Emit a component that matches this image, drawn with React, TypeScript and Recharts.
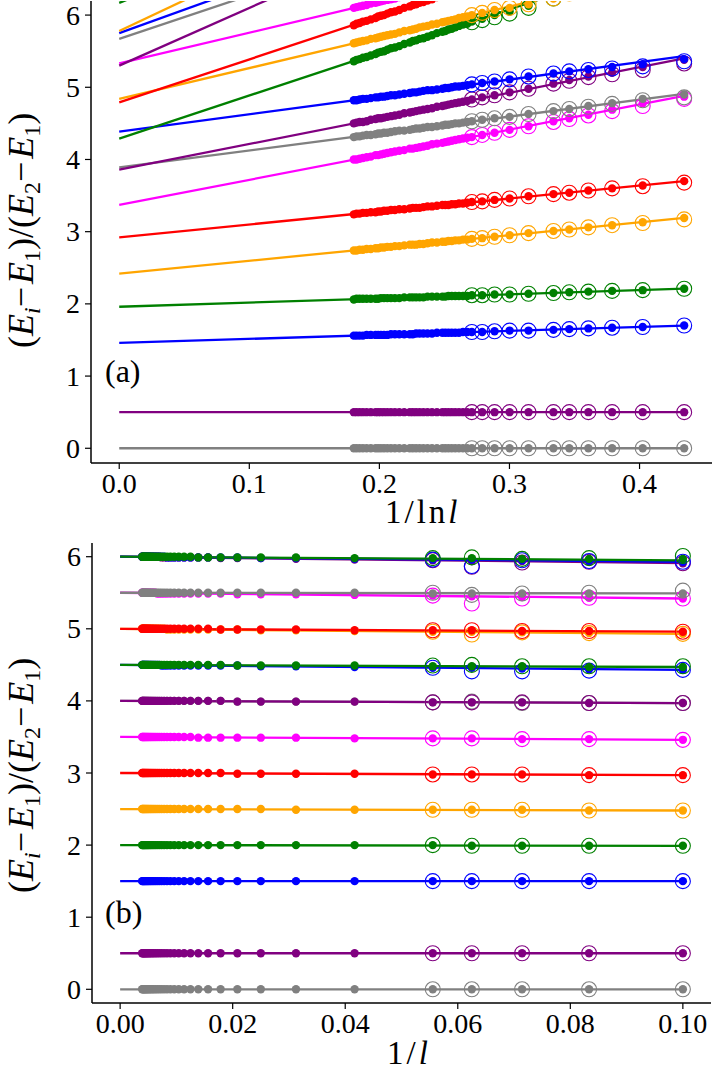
import { ComposedChart, Line, Scatter, XAxis, YAxis } from "recharts";

const SERIF = '"Liberation Serif", "DejaVu Serif", serif';

const PALETTE: Record<string, string> = {
  gray: "#808080",
  purple: "#800080",
  blue: "#0000ff",
  green: "#008000",
  orange: "#ffa500",
  red: "#ff0000",
  magenta: "#ff00ff",
};

// ---------- panel (a): levels against 1/ln l ----------
const sizesA = [
  10, 12, 14, 16, 18, 20, 24, 28, 32, 36, 40,
  42, 44, 46, 48, 50, 52, 54, 56, 60, 64, 68, 72, 76, 80, 84, 88, 96, 104, 112, 120,
  128, 136, 144, 152, 160, 176, 192, 208, 224, 240, 256,
];
const ringCountA = 11;
const colorsA = ["gray", "purple", "blue", "green", "orange", "red", "magenta", "gray", "purple", "blue", "green", "orange", "red", "magenta", "gray", "purple", "blue", "green", "orange"];
// fitted line: value at 1/ln l = 0 and at l = 10
const fitA = [
  [0, 0], [0.5, 0.5], [1.46, 1.7], [1.96, 2.21], [2.42, 3.19], [2.92, 3.7], [3.37, 4.88],
  [3.89, 4.91], [3.86, 5.4], [4.385, 5.43], [4.29, 6.88], [4.84, 6.69], [4.79, 7.38], [5.33, 7.18],
  [5.67, 8.29], [5.3, 8.77], [5.75, 8.57], [6.17, 9.21], [5.78, 9.47],
];
const dotsA = [
  [0, 0, 0, 0, 0, 0, 0, 0, 0, 0, 0, 0, 0, 0, 0, 0, 0, 0, 0, 0, 0, 0, 0, 0, 0, 0, 0, 0, 0, 0, 0, 0, 0, 0, 0, 0, 0, 0, 0, 0, 0, 0],
  [0.5, 0.5, 0.5, 0.5, 0.5, 0.5, 0.5, 0.5, 0.5, 0.5, 0.5, 0.5, 0.5, 0.5, 0.5, 0.5, 0.5, 0.5, 0.5, 0.5, 0.5, 0.5, 0.5, 0.5, 0.5, 0.5, 0.5, 0.5, 0.5, 0.5, 0.5, 0.5, 0.5, 0.5, 0.5, 0.5, 0.5, 0.5, 0.5, 0.5, 0.5, 0.5],
  [1.7, 1.68, 1.67, 1.66, 1.65, 1.64, 1.63, 1.63, 1.62, 1.61, 1.61,
    1.61, 1.61, 1.6, 1.6, 1.6, 1.6, 1.6, 1.6, 1.6, 1.59, 1.59, 1.59, 1.59, 1.59, 1.58, 1.58, 1.58, 1.58, 1.58, 1.58,
    1.57, 1.57, 1.57, 1.57, 1.57, 1.57, 1.57, 1.56, 1.56, 1.56, 1.56],
  [2.21, 2.19, 2.18, 2.17, 2.16, 2.15, 2.14, 2.13, 2.13, 2.12, 2.12,
    2.11, 2.11, 2.11, 2.11, 2.11, 2.11, 2.1, 2.1, 2.1, 2.1, 2.1, 2.09, 2.09, 2.09, 2.09, 2.09, 2.09, 2.08, 2.08, 2.08,
    2.08, 2.08, 2.08, 2.07, 2.07, 2.07, 2.07, 2.07, 2.07, 2.07, 2.06],
  [3.19, 3.13, 3.09, 3.06, 3.03, 3.01, 2.98, 2.95, 2.93, 2.91, 2.9,
    2.89, 2.89, 2.88, 2.88, 2.87, 2.87, 2.86, 2.86, 2.85, 2.85, 2.84, 2.83, 2.83, 2.82, 2.82, 2.82, 2.81, 2.8, 2.8, 2.79,
    2.79, 2.78, 2.78, 2.77, 2.77, 2.76, 2.76, 2.75, 2.75, 2.74, 2.74],
  [3.7, 3.64, 3.6, 3.57, 3.54, 3.52, 3.49, 3.46, 3.44, 3.42, 3.41,
    3.4, 3.39, 3.39, 3.38, 3.38, 3.37, 3.37, 3.37, 3.36, 3.35, 3.35, 3.34, 3.33, 3.33, 3.33, 3.32, 3.31, 3.31, 3.3, 3.3,
    3.29, 3.29, 3.28, 3.28, 3.27, 3.27, 3.26, 3.26, 3.25, 3.25, 3.24],
  [4.87, 4.78, 4.69, 4.62, 4.57, 4.53, 4.46, 4.41, 4.37, 4.34, 4.31,
    4.3, 4.29, 4.28, 4.27, 4.26, 4.25, 4.24, 4.23, 4.22, 4.21, 4.19, 4.18, 4.17, 4.16, 4.15, 4.15, 4.13, 4.12, 4.11, 4.1,
    4.09, 4.08, 4.07, 4.06, 4.06, 4.04, 4.03, 4.02, 4.01, 4.0, 4.0],
  [4.9, 4.84, 4.78, 4.74, 4.7, 4.67, 4.63, 4.59, 4.57, 4.55, 4.53,
    4.52, 4.51, 4.5, 4.5, 4.49, 4.48, 4.48, 4.47, 4.46, 4.45, 4.45, 4.44, 4.43, 4.43, 4.42, 4.41, 4.4, 4.4, 4.39, 4.38,
    4.37, 4.37, 4.36, 4.36, 4.35, 4.34, 4.34, 4.33, 4.32, 4.32, 4.31],
  [5.38, 5.28, 5.2, 5.15, 5.1, 5.05, 4.98, 4.93, 4.89, 4.86, 4.83,
    4.81, 4.8, 4.79, 4.78, 4.77, 4.76, 4.75, 4.74, 4.73, 4.71, 4.7, 4.69, 4.68, 4.67, 4.66, 4.65, 4.64, 4.62, 4.61, 4.6,
    4.59, 4.58, 4.57, 4.57, 4.56, 4.55, 4.53, 4.52, 4.52, 4.51, 4.5],
  [5.39, 5.32, 5.28, 5.25, 5.22, 5.19, 5.15, 5.11, 5.08, 5.06, 5.04,
    5.03, 5.02, 5.01, 5.01, 5.0, 4.99, 4.99, 4.98, 4.97, 4.96, 4.96, 4.95, 4.94, 4.93, 4.93, 4.92, 4.91, 4.9, 4.89, 4.89,
    4.88, 4.87, 4.87, 4.86, 4.86, 4.85, 4.84, 4.84, 4.83, 4.82, 4.82],
  [6.88, 6.69, 6.55, 6.44, 6.35, 6.26, 6.13, 6.05, 6.0, 5.95, 5.91,
    5.88, 5.87, 5.85, 5.83, 5.81, 5.8, 5.78, 5.77, 5.75, 5.72, 5.7, 5.68, 5.67, 5.65, 5.64, 5.62, 5.6, 5.57, 5.55, 5.54,
    5.52, 5.5, 5.49, 5.48, 5.46, 5.44, 5.42, 5.41, 5.39, 5.38, 5.36],
  [6.69, 6.56, 6.46, 6.38, 6.3, 6.23, 6.15, 6.1, 6.07, 6.03, 6.0,
    5.98, 5.97, 5.96, 5.94, 5.93, 5.92, 5.91, 5.9, 5.88, 5.87, 5.85, 5.84, 5.83, 5.81, 5.8, 5.79, 5.78, 5.76, 5.74, 5.73,
    5.72, 5.71, 5.7, 5.69, 5.68, 5.67, 5.65, 5.64, 5.63, 5.62, 5.61],
  [7.38, 7.19, 7.05, 6.94, 6.85, 6.78, 6.67, 6.58, 6.51, 6.45, 6.41,
    6.38, 6.37, 6.35, 6.33, 6.31, 6.3, 6.28, 6.27, 6.25, 6.22, 6.2, 6.18, 6.17, 6.15, 6.14, 6.12, 6.1, 6.07, 6.05, 6.04,
    6.02, 6.0, 5.99, 5.98, 5.96, 5.94, 5.92, 5.91, 5.89, 5.88, 5.86],
  [7.18, 7.05, 6.95, 6.87, 6.81, 6.76, 6.67, 6.61, 6.56, 6.52, 6.49,
    6.47, 6.46, 6.45, 6.43, 6.42, 6.41, 6.4, 6.39, 6.37, 6.36, 6.34, 6.33, 6.32, 6.3, 6.29, 6.28, 6.27, 6.25, 6.23, 6.22,
    6.21, 6.2, 6.19, 6.18, 6.17, 6.16, 6.14, 6.13, 6.12, 6.11, 6.1],
  [], [], [], [], [], // the measured points of these levels lie above the window
];
const ringsA = [
  [0, 0, 0, 0, 0, 0, 0, 0, 0, 0, 0],
  [0.5, 0.5, 0.5, 0.5, 0.5, 0.5, 0.5, 0.5, 0.5, 0.5, 0.5],
  [1.7, 1.68, 1.67, 1.66, 1.65, 1.64, 1.63, 1.63, 1.62, 1.61, 1.61],
  [2.21, 2.19, 2.18, 2.17, 2.16, 2.15, 2.14, 2.13, 2.13, 2.12, 2.12],
  [3.17, 3.12, 3.09, 3.06, 3.03, 3.01, 2.98, 2.95, 2.93, 2.91, 2.9],
  [3.68, 3.63, 3.6, 3.57, 3.54, 3.52, 3.49, 3.46, 3.44, 3.42, 3.41],
  [4.84, 4.74, 4.67, 4.61, 4.56, 4.52, 4.46, 4.41, 4.37, 4.34, 4.31],
  [4.86, 4.82, 4.77, 4.73, 4.7, 4.67, 4.63, 4.59, 4.57, 4.55, 4.53],
  [5.33, 5.24, 5.18, 5.14, 5.09, 5.05, 4.98, 4.93, 4.89, 4.86, 4.83],
  [5.36, 5.29, 5.26, 5.24, 5.22, 5.19, 5.15, 5.11, 5.08, 5.06, 5.04],
  [6.85, 6.66, 6.52, 6.41, 6.32, 6.23, 6.1, 6.02, 5.97, 5.93, 5.9],
  [6.69, 6.56, 6.46, 6.38, 6.3, 6.23, 6.15, 6.1, 6.07, 6.03, 6.0],
  [7.38, 7.19, 7.05, 6.94, 6.85, 6.78, 6.67, 6.58, 6.51, 6.45, 6.41],
  [7.18, 7.05, 6.95, 6.87, 6.81, 6.76, 6.67, 6.61, 6.56, 6.52, 6.49],
  [], [], [], [], [],
];
const ticksA = [0, 0.1, 0.2, 0.3, 0.4];

// ---------- panel (b): levels against 1/l ----------
const sizesB = [
  10, 12, 14, 16, 18,
  24, 32, 40, 48, 56, 64, 72, 80, 88, 96, 104, 112, 120, 128, 136, 144, 152, 160, 168, 176, 184, 192, 200, 208, 216, 224, 232, 240, 248, 256,
];
const ringCountB = 5;
const colorsB = ["gray", "purple", "blue", "green", "orange", "red", "magenta", "gray", "purple", "blue", "green", "orange", "red", "magenta", "gray", "purple", "blue", "green"];
// fitted line: value at 1/l = 0 and at l = 10
const fitB = [
  [0, 0], [0.5, 0.5], [1.5, 1.5], [2.0, 1.99], [2.5, 2.48], [3.0, 2.97], [3.5, 3.46], [4.0, 3.97], [4.0, 3.97],
  [4.5, 4.43], [4.5, 4.47], [5.0, 4.93], [5.0, 4.96], [5.5, 5.42], [5.5, 5.49], [6.0, 5.91], [6.0, 5.93], [6.0, 5.95],
];
const dotsB = [
  [0, 0, 0, 0, 0, 0, 0, 0, 0, 0, 0, 0, 0, 0, 0, 0, 0, 0, 0, 0, 0, 0, 0, 0, 0, 0, 0, 0, 0, 0, 0, 0, 0, 0, 0],
  [0.5, 0.5, 0.5, 0.5, 0.5, 0.5, 0.5, 0.5, 0.5, 0.5, 0.5, 0.5, 0.5, 0.5, 0.5, 0.5, 0.5, 0.5, 0.5, 0.5, 0.5, 0.5, 0.5, 0.5, 0.5, 0.5, 0.5, 0.5, 0.5, 0.5, 0.5, 0.5, 0.5, 0.5, 0.5],
  [1.5, 1.5, 1.5, 1.5, 1.5, 1.5, 1.5, 1.5, 1.5, 1.5, 1.5, 1.5, 1.5, 1.5, 1.5, 1.5, 1.5, 1.5, 1.5, 1.5, 1.5, 1.5, 1.5, 1.5, 1.5, 1.5, 1.5, 1.5, 1.5, 1.5, 1.5, 1.5, 1.5, 1.5, 1.5],
  [1.99, 1.99, 1.99, 1.99, 2, 2, 2, 2, 2, 2, 2, 2, 2, 2, 2, 2, 2, 2, 2, 2, 2, 2, 2, 2, 2, 2, 2, 2, 2, 2, 2, 2, 2, 2, 2],
  [2.48, 2.48, 2.49, 2.49, 2.49, 2.49, 2.49, 2.5, 2.5, 2.5, 2.5, 2.5, 2.5, 2.5, 2.5, 2.5, 2.5, 2.5, 2.5, 2.5, 2.5, 2.5, 2.5, 2.5, 2.5, 2.5, 2.5, 2.5, 2.5, 2.5, 2.5, 2.5, 2.5, 2.5, 2.5],
  [2.97, 2.97, 2.98, 2.98, 2.98, 2.99, 2.99, 2.99, 2.99, 3, 3, 3, 3, 3, 3, 3, 3, 3, 3, 3, 3, 3, 3, 3, 3, 3, 3, 3, 3, 3, 3, 3, 3, 3, 3],
  [3.46, 3.47, 3.47, 3.48, 3.48, 3.48, 3.49, 3.49, 3.49, 3.49, 3.49, 3.49, 3.5, 3.5, 3.5, 3.5, 3.5, 3.5, 3.5, 3.5, 3.5, 3.5, 3.5, 3.5, 3.5, 3.5, 3.5, 3.5, 3.5, 3.5, 3.5, 3.5, 3.5, 3.5, 3.5],
  [3.97, 3.97, 3.98, 3.98, 3.98, 3.99, 3.99, 3.99, 3.99, 4, 4, 4, 4, 4, 4, 4, 4, 4, 4, 4, 4, 4, 4, 4, 4, 4, 4, 4, 4, 4, 4, 4, 4, 4, 4],
  [3.97, 3.97, 3.98, 3.98, 3.98, 3.99, 3.99, 3.99, 3.99, 4, 4, 4, 4, 4, 4, 4, 4, 4, 4, 4, 4, 4, 4, 4, 4, 4, 4, 4, 4, 4, 4, 4, 4, 4, 4],
  [4.43, 4.44, 4.45, 4.46, 4.46, 4.47, 4.48, 4.48, 4.49, 4.49, 4.49, 4.49, 4.49, 4.49, 4.49, 4.49, 4.49, 4.49, 4.49, 4.49, 4.5, 4.5, 4.5, 4.5, 4.5, 4.5, 4.5, 4.5, 4.5, 4.5, 4.5, 4.5, 4.5, 4.5, 4.5],
  [4.47, 4.47, 4.48, 4.48, 4.48, 4.49, 4.49, 4.49, 4.49, 4.5, 4.5, 4.5, 4.5, 4.5, 4.5, 4.5, 4.5, 4.5, 4.5, 4.5, 4.5, 4.5, 4.5, 4.5, 4.5, 4.5, 4.5, 4.5, 4.5, 4.5, 4.5, 4.5, 4.5, 4.5, 4.5],
  [4.93, 4.94, 4.95, 4.96, 4.96, 4.97, 4.98, 4.98, 4.99, 4.99, 4.99, 4.99, 4.99, 4.99, 4.99, 4.99, 4.99, 4.99, 5, 5, 5, 5, 5, 5, 5, 5, 5, 5, 5, 5, 5, 5, 5, 5, 5],
  [4.96, 4.97, 4.97, 4.98, 4.98, 4.98, 4.99, 4.99, 4.99, 4.99, 5, 5, 5, 5, 5, 5, 5, 5, 5, 5, 5, 5, 5, 5, 5, 5, 5, 5, 5, 5, 5, 5, 5, 5, 5],
  [5.42, 5.43, 5.44, 5.45, 5.46, 5.47, 5.48, 5.48, 5.48, 5.49, 5.49, 5.49, 5.49, 5.49, 5.49, 5.49, 5.49, 5.49, 5.49, 5.49, 5.49, 5.49, 5.5, 5.5, 5.5, 5.5, 5.5, 5.5, 5.5, 5.5, 5.5, 5.5, 5.5, 5.5, 5.5],
  [5.49, 5.49, 5.49, 5.49, 5.49, 5.5, 5.5, 5.5, 5.5, 5.5, 5.5, 5.5, 5.5, 5.5, 5.5, 5.5, 5.5, 5.5, 5.5, 5.5, 5.5, 5.5, 5.5, 5.5, 5.5, 5.5, 5.5, 5.5, 5.5, 5.5, 5.5, 5.5, 5.5, 5.5, 5.5],
  [5.91, 5.93, 5.94, 5.94, 5.95, 5.96, 5.97, 5.98, 5.98, 5.98, 5.99, 5.99, 5.99, 5.99, 5.99, 5.99, 5.99, 5.99, 5.99, 5.99, 6, 6, 6, 6, 6, 6, 6, 6, 6, 6, 6, 6, 6, 6, 6],
  [5.93, 5.94, 5.95, 5.96, 5.96, 5.97, 5.98, 5.98, 5.99, 5.99, 5.99, 5.99, 5.99, 5.99, 5.99, 5.99, 5.99, 5.99, 6, 6, 6, 6, 6, 6, 6, 6, 6, 6, 6, 6, 6, 6, 6, 6, 6],
  [5.97, 5.97, 5.97, 5.98, 5.98, 5.98, 5.99, 5.99, 5.99, 5.99, 5.99, 5.99, 6, 6, 6, 6, 6, 6, 6, 6, 6, 6, 6, 6, 6, 6, 6, 6, 6, 6, 6, 6, 6, 6, 6],
];
const ringsB = [
  [0, 0, 0, 0, 0],
  [0.5, 0.5, 0.5, 0.5, 0.5],
  [1.5, 1.5, 1.5, 1.5, 1.5],
  [1.99, 1.99, 1.99, 1.99, 2],
  [2.48, 2.48, 2.49, 2.49, 2.49],
  [2.97, 2.97, 2.98, 2.98, 2.98],
  [3.46, 3.47, 3.47, 3.48, 3.48],
  [3.97, 3.97, 3.97, 3.99, 3.98],
  [3.97, 3.97, 3.98, 3.98, 3.98],
  [4.43, 4.42, 4.41, 4.41, 4.46],
  [4.48, 4.48, 4.48, 4.5, 4.49],
  [4.93, 4.94, 4.95, 4.92, 4.96],
  [4.96, 4.97, 4.97, 4.98, 4.98],
  [5.42, 5.43, 5.42, 5.35, 5.46],
  [5.53, 5.5, 5.49, 5.47, 5.5],
  [5.91, 5.93, 5.92, 5.86, 5.95],
  [5.93, 5.94, 5.95, 5.87, 5.96],
  [6.01, 5.98, 5.97, 5.99, 5.98],
];
const ticksB = [0, 0.02, 0.04, 0.06, 0.08, 0.1];
const ticksY = [0, 1, 2, 3, 4, 5, 6];

type PanelProps = {
  xOf: (l: number) => number;
  sizes: number[];
  ringCount: number;
  colors: string[];
  fit: number[][];
  dots: number[][];
  rings: number[][];
  xDomain: [number, number];
  yDomain: [number, number];
  xTicks: number[];
  digits: number;
  margin: { top: number; right: number; left: number; bottom: number };
  yWidth: number;
  xHeight: number;
};

function XTick(props: any, digits: number) {
  return (
    <text x={props.x} y={props.y} dy="0.71em" textAnchor="middle" fontFamily={SERIF} fontSize={28} fill="#000">
      {Number(props.payload.value).toFixed(digits)}
    </text>
  );
}

function YTick(props: any) {
  return (
    <text x={props.x} y={props.y} dy="0.34em" textAnchor="end" fontFamily={SERIF} fontSize={28} fill="#000">
      {props.payload.value}
    </text>
  );
}

function Panel(p: PanelProps) {
  const x1 = p.xOf(p.sizes[0]);
  return (
    <ComposedChart width={721} height={540} margin={p.margin} style={{ fontFamily: SERIF }}>
      <XAxis
        type="number"
        dataKey="x"
        domain={p.xDomain}
        allowDataOverflow
        ticks={p.xTicks}
        tick={(t: any) => XTick(t, p.digits)}
        tickSize={6}
        tickMargin={4}
        height={p.xHeight}
        axisLine={{ stroke: "#000", strokeWidth: 1.5 }}
        tickLine={{ stroke: "#000", strokeWidth: 1.2 }}
      />
      <XAxis xAxisId="top" orientation="top" type="number" domain={p.xDomain} allowDataOverflow height={0} tick={false} tickLine={false} axisLine={{ stroke: "#000", strokeWidth: 1.5 }} />
      <YAxis
        type="number"
        dataKey="y"
        domain={p.yDomain}
        allowDataOverflow
        ticks={ticksY}
        tick={YTick}
        tickSize={6}
        tickMargin={5}
        width={p.yWidth}
        axisLine={{ stroke: "#000", strokeWidth: 1.5 }}
        tickLine={{ stroke: "#000", strokeWidth: 1.2 }}
      />
      <YAxis yAxisId="right" orientation="right" type="number" domain={p.yDomain} allowDataOverflow width={0} tick={false} tickLine={false} axisLine={{ stroke: "#000", strokeWidth: 1.5 }} />
      {p.colors.flatMap((name, s) => {
        const c = PALETTE[name];
        const lineData = [
          { x: 0, y: p.fit[s][0] },
          { x: x1, y: p.fit[s][1] },
        ];
        const dotData = p.dots[s].map((y, i) => ({ x: p.xOf(p.sizes[i]), y }));
        const ringData = p.rings[s].slice(0, p.ringCount).map((y, i) => ({ x: p.xOf(p.sizes[i]), y }));
        return [
          <Line key={`l${s}`} data={lineData} dataKey="y" stroke={c} strokeWidth={2.3} dot={false} isAnimationActive={false} />,
          <Scatter
            key={`d${s}`}
            data={dotData}
            dataKey="y"
            isAnimationActive={false}
            shape={(q: any) => <circle cx={q.cx} cy={q.cy} r={4.2} fill={c} />}
          />,
          <Scatter
            key={`r${s}`}
            data={ringData}
            dataKey="y"
            isAnimationActive={false}
            shape={(q: any) => <circle cx={q.cx} cy={q.cy} r={7.5} fill="none" stroke={c} strokeWidth={1.1} />}
          />,
        ];
      })}
    </ComposedChart>
  );
}

// rotated axis title, written from its lower end upwards
function YLabel({ x, y }: { x: number; y: number }) {
  const sub = { fontSize: 24, fontStyle: "normal" as const };
  return (
    <text transform={`translate(${x},${y}) rotate(-90)`} textAnchor="start" fontFamily={SERIF} fontSize={36} fill="#000">
      (<tspan fontStyle="italic">E</tspan>
      <tspan dy={7} fontStyle="italic" fontSize={24}>i</tspan>
      <tspan dy={-7}>−</tspan>
      <tspan dx={3} fontStyle="italic">E</tspan>
      <tspan dy={7} {...sub}>1</tspan>
      <tspan dy={-7}>)/(</tspan>
      <tspan fontStyle="italic">E</tspan>
      <tspan dy={7} {...sub}>2</tspan>
      <tspan dy={-7}>−</tspan>
      <tspan dx={3} fontStyle="italic">E</tspan>
      <tspan dy={7} {...sub}>1</tspan>
      <tspan dy={-7}>)</tspan>
    </text>
  );
}

export default function App() {
  return (
    <div style={{ position: "absolute", left: 0, top: 0, width: 721, height: 1080, background: "#fff" }}>
      <div style={{ position: "absolute", left: 0, top: 0 }}>
        <Panel
          xOf={(l) => 1 / Math.log(l)}
          sizes={sizesA}
          ringCount={ringCountA}
          colors={colorsA}
          fit={fitA}
          dots={dotsA}
          rings={ringsA}
          xDomain={[-0.0217, 0.4557]}
          yDomain={[-0.204, 6.195]}
          xTicks={ticksA}
          digits={1}
          margin={{ top: 1, right: 9, left: 0, bottom: 0 }}
          yWidth={91}
          xHeight={77}
        />
      </div>
      <div style={{ position: "absolute", left: 0, top: 540 }}>
        <Panel
          xOf={(l) => 1 / l}
          sizes={sizesB}
          ringCount={ringCountB}
          colors={colorsB}
          fit={fitB}
          dots={dotsB}
          rings={ringsB}
          xDomain={[-0.005, 0.105]}
          yDomain={[-0.19, 6.19]}
          xTicks={ticksB}
          digits={2}
          margin={{ top: 3, right: 10, left: 0, bottom: 0 }}
          yWidth={92}
          xHeight={77}
        />
      </div>
      <svg width={721} height={1080} style={{ position: "absolute", left: 0, top: 0, pointerEvents: "none" }}>
        <YLabel x={33} y={348} />
        <YLabel x={33} y={893} />
        <text x={385} y={523} fontFamily={SERIF} fontSize={33} letterSpacing={3} fill="#000">
          1/ln<tspan fontStyle="italic">l</tspan>
        </text>
        <text x={387} y={1064} fontFamily={SERIF} fontSize={33} letterSpacing={3} fill="#000">
          1/<tspan fontStyle="italic">l</tspan>
        </text>
        <text x={105} y={382} fontFamily={SERIF} fontSize={32} fill="#000">(a)</text>
        <text x={105} y={923} fontFamily={SERIF} fontSize={32} fill="#000">(b)</text>
      </svg>
    </div>
  );
}
